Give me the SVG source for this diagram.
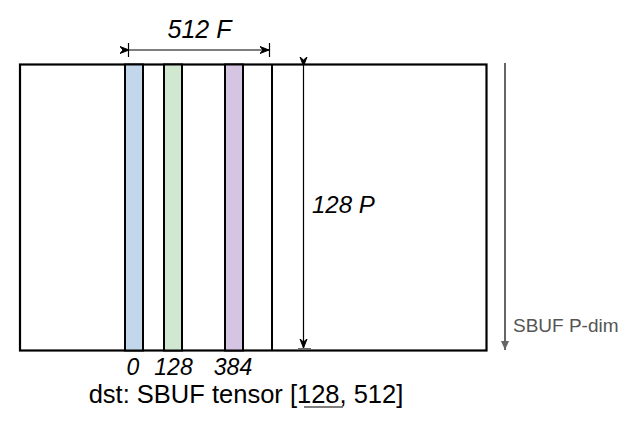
<svg xmlns="http://www.w3.org/2000/svg" width="629" height="424" viewBox="0 0 629 424">
<style>
.t{font-family:"Liberation Sans",Arial,sans-serif;fill:#000}
.i{font-style:italic}
.bar{stroke:#000;stroke-width:2}
.dim{stroke:#000;stroke-width:1.2;fill:none}
</style>
<defs>
<marker id="ah" markerWidth="10" markerHeight="10" refX="9" refY="5" orient="auto" markerUnits="userSpaceOnUse">
<path d="M0,1.5 L9,5 L0,8.5 L3,5 Z" fill="#000" stroke="#000" stroke-width="1"/>
</marker>
<marker id="gh" markerWidth="10" markerHeight="12" refX="9" refY="5" orient="auto" markerUnits="userSpaceOnUse">
<path d="M0,1 L9,5 L0,9 Z" fill="#666"/>
</marker>
</defs>
<rect width="629" height="424" fill="#fff"/>
<g id="tensor">
<rect x="20" y="64.5" width="466.5" height="286" fill="#fff" stroke="#000" stroke-width="2.2"/>
</g>
<g id="bar0"><rect class="bar" x="125" y="64.5" width="18" height="286" fill="#c3d7ec"/></g>
<g id="bar128"><rect class="bar" x="164" y="64.5" width="18" height="286" fill="#d0e8cf"/></g>
<g id="bar384"><rect class="bar" x="225" y="64.5" width="18" height="286" fill="#d5c5e2"/></g>
<g id="bar-end"><line class="bar" x1="272" y1="64.5" x2="272" y2="350.5"/></g>
<g id="connectors">
<line class="dim" x1="129" y1="50" x2="269" y2="50" marker-start="url(#ah)" marker-end="url(#ah)"/>
<line x1="128.5" y1="43" x2="128.5" y2="57" stroke="#000" stroke-width="1.2"/>
<line x1="269.5" y1="43" x2="269.5" y2="57" stroke="#000" stroke-width="1.2"/>
<line class="dim" x1="303.5" y1="66" x2="303.5" y2="348" marker-start="url(#ah)" marker-end="url(#ah)"/>
<line x1="298" y1="349" x2="311" y2="349" stroke="#666" stroke-width="2"/>
<line x1="505" y1="63" x2="505" y2="350" stroke="#666" stroke-width="2" marker-end="url(#gh)"/>
</g>
<text class="t i" x="199.5" y="38" font-size="25" text-anchor="middle">512 F</text>
<text class="t i" x="312" y="213" font-size="24">128 P</text>
<text class="t i" x="133" y="375" font-size="23" text-anchor="middle">0</text>
<text class="t i" x="173.5" y="375" font-size="23" text-anchor="middle">128</text>
<text class="t i" x="233" y="375" font-size="23" text-anchor="middle">384</text>
<text class="t" x="246" y="403" font-size="25.5" text-anchor="middle">dst: SBUF tensor [128, 512]</text>
<line x1="304" y1="407" x2="343" y2="407" stroke="#555" stroke-width="1.5"/>
<text class="t" x="513" y="332" font-size="19" style="fill:#555">SBUF P-dim</text>
</svg>
